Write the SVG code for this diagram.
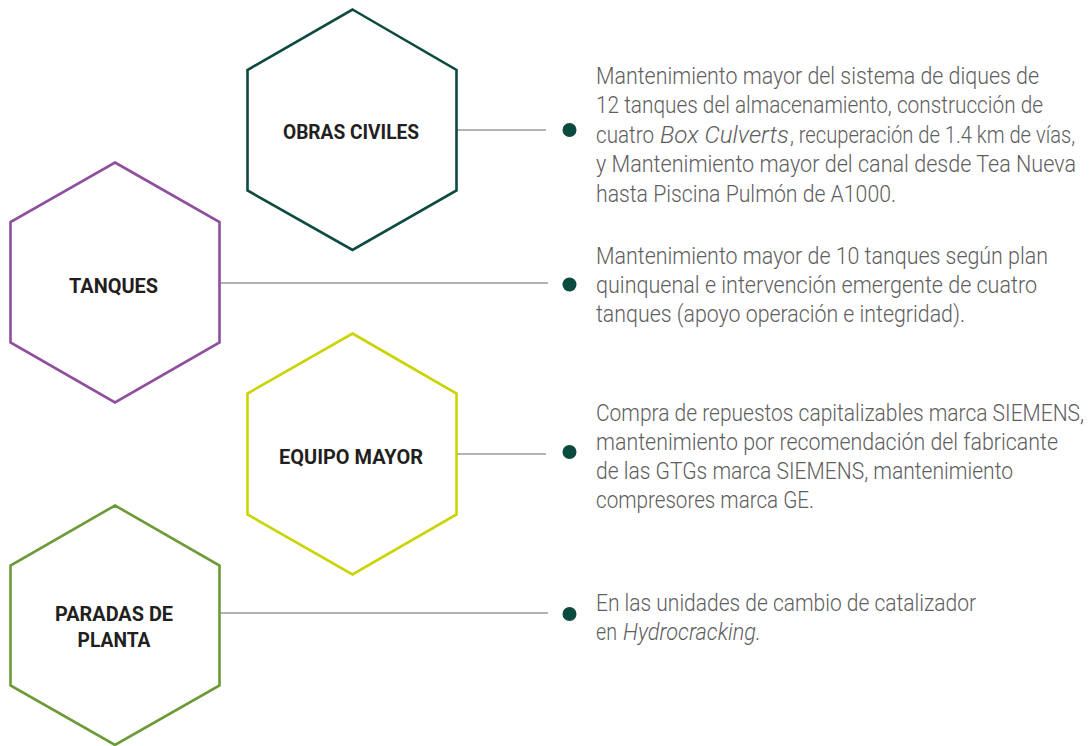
<svg xmlns="http://www.w3.org/2000/svg" width="1090" height="746" viewBox="0 0 1090 746">
<style>
.hex{fill:#ffffff;stroke-width:2.6;stroke-linejoin:miter}
.lbl{font-family:Roboto,"Liberation Sans",sans-serif;font-weight:700;font-size:20.5px;fill:#231f20;text-anchor:middle}
.txt{font-family:Roboto,"Liberation Sans",sans-serif;font-weight:300;font-size:23px;fill:#5e5e5e}
.it{font-style:italic}
.con{stroke:#9a9a9a;stroke-width:1.4;fill:none}
.dot{fill:#0b4a3f}
</style>
<rect x="0" y="0" width="1090" height="746" fill="#ffffff"/>
<g id="connectors">
<line class="con" x1="457" y1="130" x2="546" y2="130"/>
<line class="con" x1="220" y1="283" x2="548" y2="283"/>
<line class="con" x1="457" y1="454" x2="546" y2="454"/>
<line class="con" x1="220" y1="613" x2="548" y2="613"/>
<circle class="dot" cx="569.5" cy="130" r="7"/>
<circle class="dot" cx="569.5" cy="284.5" r="7"/>
<circle class="dot" cx="569.5" cy="452" r="7"/>
<circle class="dot" cx="569.5" cy="614" r="7"/>
</g>
<g id="obras-civiles">
<polygon class="hex" stroke="#0d4a40" points="352.5,9.5 456.5,70 456.5,190.5 352.5,250 247.5,190.5 247.5,70"/>
<text class="lbl" x="351" y="139" textLength="136" lengthAdjust="spacingAndGlyphs">OBRAS CIVILES</text>
</g>
<g id="tanques">
<polygon class="hex" stroke="#8e4f9e" points="115,162.5 219.5,222 219.5,342.5 115,402.5 10.5,342.5 10.5,222"/>
<text class="lbl" x="113.5" y="293" textLength="89" lengthAdjust="spacingAndGlyphs">TANQUES</text>
</g>
<g id="equipo-mayor">
<polygon class="hex" stroke="#c9d400" points="352.5,333.5 456.5,393.5 456.5,514.5 352.5,574.5 247.5,514.5 247.5,393.5"/>
<text class="lbl" x="351" y="464" textLength="144" lengthAdjust="spacingAndGlyphs">EQUIPO MAYOR</text>
</g>
<g id="paradas-de-planta">
<polygon class="hex" stroke="#6b9a37" points="115,505.5 219.5,565.5 219.5,685.5 115,745 10.5,685.5 10.5,565.5"/>
<text class="lbl" x="114" y="621" textLength="118" lengthAdjust="spacingAndGlyphs">PARADAS DE</text>
<text class="lbl" x="114" y="647" textLength="73" lengthAdjust="spacingAndGlyphs">PLANTA</text>
</g>
<g id="obras-civiles-text">
<text class="txt" x="596" y="83.5" textLength="443" lengthAdjust="spacingAndGlyphs">Mantenimiento mayor del sistema de diques de</text>
<text class="txt" x="596" y="113" textLength="447" lengthAdjust="spacingAndGlyphs">12 tanques del almacenamiento, construcción de</text>
<text class="txt" x="596" y="142.5" textLength="58" lengthAdjust="spacingAndGlyphs">cuatro</text>
<text class="txt it" x="660" y="142.5" textLength="129" lengthAdjust="spacingAndGlyphs">Box Culverts</text>
<text class="txt" x="790" y="142.5" textLength="285" lengthAdjust="spacingAndGlyphs">, recuperación de 1.4 km de vías,</text>
<text class="txt" x="596" y="172" textLength="480" lengthAdjust="spacingAndGlyphs">y Mantenimiento mayor del canal desde Tea Nueva</text>
<text class="txt" x="596" y="201.5" textLength="300" lengthAdjust="spacingAndGlyphs">hasta Piscina Pulmón de A1000.</text>
</g>
<g id="tanques-text">
<text class="txt" x="596" y="264" textLength="452" lengthAdjust="spacingAndGlyphs">Mantenimiento mayor de 10 tanques según plan</text>
<text class="txt" x="596" y="293" textLength="441" lengthAdjust="spacingAndGlyphs">quinquenal e intervención emergente de cuatro</text>
<text class="txt" x="596" y="322" textLength="369" lengthAdjust="spacingAndGlyphs">tanques (apoyo operación e integridad).</text>
</g>
<g id="equipo-mayor-text">
<text class="txt" x="596" y="421" textLength="488" lengthAdjust="spacingAndGlyphs">Compra de repuestos capitalizables marca SIEMENS,</text>
<text class="txt" x="596" y="450" textLength="462" lengthAdjust="spacingAndGlyphs">mantenimiento por recomendación del fabricante</text>
<text class="txt" x="596" y="479" textLength="417" lengthAdjust="spacingAndGlyphs">de las GTGs marca SIEMENS, mantenimiento</text>
<text class="txt" x="596" y="508" textLength="218" lengthAdjust="spacingAndGlyphs">compresores marca GE.</text>
</g>
<g id="paradas-de-planta-text">
<text class="txt" x="596" y="610.5" textLength="380" lengthAdjust="spacingAndGlyphs">En las unidades de cambio de catalizador</text>
<text class="txt" x="596" y="639.5" textLength="21" lengthAdjust="spacingAndGlyphs">en</text>
<text class="txt it" x="623" y="639.5" textLength="138" lengthAdjust="spacingAndGlyphs">Hydrocracking.</text>
</g>
</svg>
